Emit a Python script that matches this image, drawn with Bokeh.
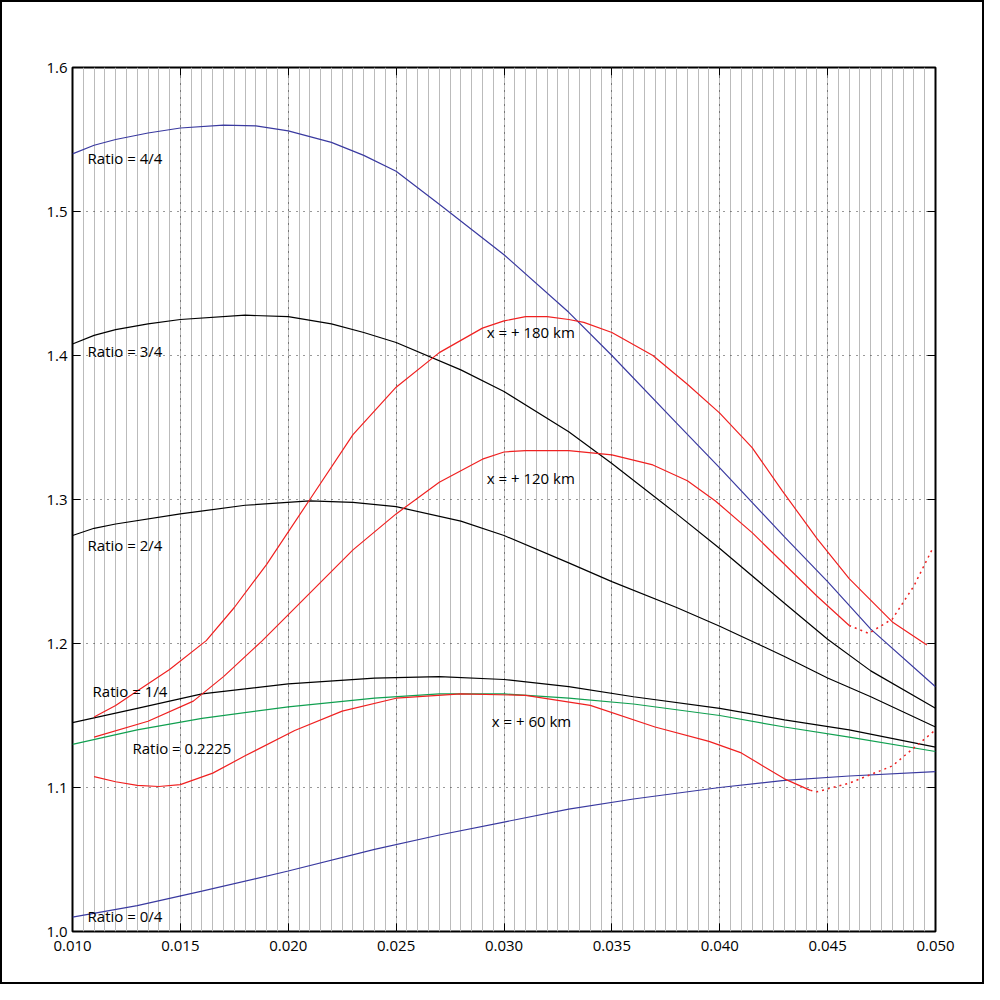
from bokeh.plotting import figure
from bokeh.embed import file_html
from bokeh.resources import INLINE
from bokeh.models import SingleIntervalTicker, LinearAxis, NumeralTickFormatter, Range1d, CustomJSTickFormatter
from bokeh.core.properties import value

x44 = [0.010,0.011,0.012,0.0135,0.015,0.017,0.0185,0.020,0.022,0.0235,0.025,0.027,0.030,0.033,0.035,0.038,0.040,0.043,0.045,0.047,0.050]
y44 = [1.540,1.546,1.550,1.5545,1.558,1.560,1.5595,1.556,1.548,1.539,1.528,1.505,1.470,1.430,1.400,1.353,1.322,1.274,1.243,1.210,1.170]
x34 = [0.010,0.011,0.012,0.0135,0.015,0.018,0.020,0.022,0.0235,0.025,0.028,0.030,0.033,0.035,0.038,0.040,0.043,0.045,0.047,0.050]
y34 = [1.408,1.414,1.418,1.422,1.425,1.428,1.427,1.422,1.416,1.409,1.390,1.375,1.347,1.325,1.290,1.266,1.228,1.203,1.181,1.155]
x24 = [0.010,0.011,0.012,0.015,0.018,0.021,0.023,0.025,0.028,0.030,0.033,0.035,0.038,0.040,0.043,0.045,0.047,0.050]
y24 = [1.275,1.280,1.283,1.290,1.296,1.299,1.298,1.295,1.285,1.275,1.256,1.243,1.225,1.212,1.191,1.176,1.163,1.142]
x14 = [0.010,0.013,0.016,0.020,0.024,0.027,0.030,0.033,0.036,0.040,0.043,0.046,0.050]
y14 = [1.145,1.155,1.165,1.172,1.176,1.177,1.175,1.170,1.163,1.155,1.147,1.140,1.128]
xg = [0.010,0.013,0.016,0.020,0.024,0.027,0.030,0.033,0.036,0.040,0.043,0.046,0.050]
yg = [1.130,1.140,1.148,1.156,1.162,1.165,1.165,1.162,1.158,1.150,1.142,1.135,1.125]
x04 = [0.010,0.013,0.016,0.020,0.024,0.027,0.030,0.033,0.036,0.040,0.043,0.046,0.050]
y04 = [1.010,1.018,1.028,1.042,1.057,1.067,1.076,1.085,1.092,1.100,1.105,1.108,1.111]

x180 = [0.011,0.012,0.013,0.0145,0.0162,0.0175,0.019,0.021,0.023,0.025,0.027,0.029,0.030,0.031,0.032,0.033,0.0337,0.035,0.0369,0.0385,0.040,0.0415,0.0429,0.0445,0.046,0.048,0.0496]
y180 = [1.149,1.157,1.167,1.182,1.202,1.225,1.255,1.300,1.345,1.378,1.402,1.419,1.424,1.427,1.427,1.425,1.423,1.416,1.400,1.380,1.360,1.336,1.306,1.273,1.245,1.215,1.199]
x120 = [0.011,0.0135,0.0156,0.017,0.0188,0.021,0.023,0.025,0.027,0.029,0.030,0.031,0.033,0.035,0.0369,0.0385,0.0398,0.0415,0.043,0.0445,0.046]
y120 = [1.135,1.146,1.160,1.177,1.202,1.235,1.265,1.290,1.312,1.328,1.333,1.334,1.334,1.331,1.324,1.313,1.299,1.277,1.255,1.233,1.2125]
x120d = [0.046,0.0469,0.048,0.049,0.0499]
y120d = [1.2125,1.207,1.217,1.240,1.267]
x60 = [0.011,0.012,0.013,0.014,0.015,0.0165,0.018,0.0203,0.0225,0.025,0.028,0.031,0.034,0.037,0.0395,0.041,0.042,0.043,0.0442]
y60 = [1.1076,1.104,1.1015,1.1007,1.102,1.110,1.122,1.1396,1.153,1.162,1.165,1.164,1.157,1.142,1.132,1.124,1.115,1.106,1.098]
x60d = [0.0442,0.0445,0.046,0.048,0.050]
y60d = [1.098,1.097,1.103,1.115,1.140]

label_text = ["Ratio = 4/4","Ratio = 3/4","Ratio = 2/4","Ratio = 1/4","Ratio = 0.2225","Ratio = 0/4",
              "x = + 180 km","x = + 120 km","x = + 60 km"]
label_x = [0.01070,0.01070,0.01070,0.01093,0.01278,0.01070,0.02920,0.02920,0.02943]
label_y = [1.5375,1.4028,1.2681,1.1667,1.1271,1.0111,1.4160,1.3146,1.1465]

p = figure(width=984, height=984, output_backend="svg", toolbar_location=None,
           x_range=Range1d(0.010, 0.050), y_range=Range1d(1.0, 1.6),
           min_border_left=70, min_border_right=51, min_border_top=65, min_border_bottom=55,
           styles={"border": "2px solid black", "box-sizing": "border-box"})
p.outline_line_color = "black"
p.outline_line_width = 2

xt = SingleIntervalTicker(interval=0.005, num_minor_ticks=10)
yt = SingleIntervalTicker(interval=0.1, num_minor_ticks=0)
p.xaxis.ticker = xt
p.yaxis.ticker = yt
p.xaxis.formatter = NumeralTickFormatter(format="0.000")
p.yaxis.formatter = NumeralTickFormatter(format="0.0")
p.xgrid.ticker = xt
p.ygrid.ticker = yt
for g in (p.xgrid, p.ygrid):
    g.grid_line_color = "#333333"
    g.grid_line_dash = "1 6"
    g.grid_line_width = 1
p.xgrid.minor_grid_line_color = "#bbbbbb"
p.xgrid.minor_grid_line_width = 1

def style_axis(a):
    a.major_tick_in = 8
    a.major_tick_out = 0
    a.minor_tick_line_color = None
    a.axis_line_color = None
    a.major_tick_line_color = "black"
    a.major_tick_line_width = 1
    a.major_label_text_font = "Open Sans"
    a.major_label_text_font_size = "15px"
    a.major_label_text_color = "black"

style_axis(p.xaxis[0])
style_axis(p.yaxis[0])
blank = CustomJSTickFormatter(code="return ''")
p.add_layout(LinearAxis(ticker=xt, formatter=blank), "above")
p.add_layout(LinearAxis(ticker=yt, formatter=blank), "right")
style_axis(p.above[0])
style_axis(p.right[0])

p.line(x44, y44, color="#3a3aa0", line_width=1.2)
p.line(x34, y34, color="black", line_width=1.2)
p.line(x24, y24, color="black", line_width=1.2)
p.line(x14, y14, color="black", line_width=1.2)
p.line(xg, yg, color="#10a050", line_width=1.2)
p.line(x04, y04, color="#3a3aa0", line_width=1.2)
p.line(x180, y180, color="#f02020", line_width=1.2)
p.line(x120, y120, color="#f02020", line_width=1.2)
p.line(x120d, y120d, color="#f02020", line_width=1.5, line_dash="2 4")
p.line(x60, y60, color="#f02020", line_width=1.2)
p.line(x60d, y60d, color="#f02020", line_width=1.5, line_dash="2 4")

p.text(label_x, label_y, text=label_text, text_font=value("Open Sans"), text_font_size="15px",
       text_baseline="middle", text_align="left", text_color="black")

open("out.html", "w").write(file_html(p, INLINE))
